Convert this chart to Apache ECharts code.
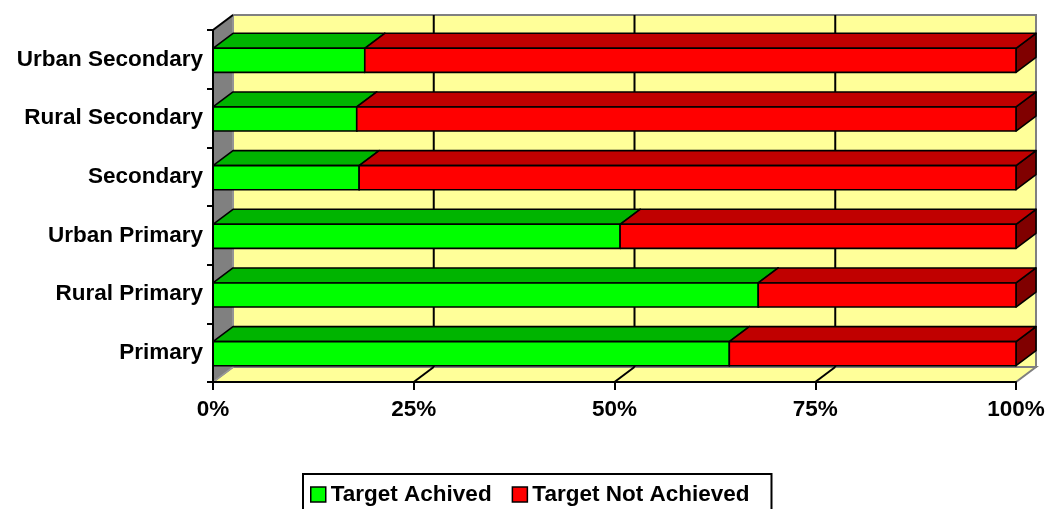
<!DOCTYPE html>
<html>
<head>
<meta charset="utf-8">
<script src="https://cdn.jsdelivr.net/npm/echarts@6/dist/echarts.min.js"></script>
<style>
html,body{margin:0;padding:0;background:#fff;}
#chart{width:1048px;height:509px;}
</style>
</head>
<body>
<div id="chart"></div>
<script>
// ---- data ----
const categories = ['Primary', 'Rural Primary', 'Urban Primary', 'Secondary', 'Rural Secondary', 'Urban Secondary'];
const achieved = [64.3, 67.9, 50.7, 18.2, 17.9, 18.9];
const notAchieved = [35.7, 32.1, 49.3, 81.8, 82.1, 81.1];
const seriesNames = ['Target Achived', 'Target Not Achieved'];
const xMin = 0, xMax = 100, xInterval = 25;

// ---- style ----
const FONT = '"Liberation Sans", Arial, sans-serif';
const FS = 22.5;
const DX = 20, DY = 15;          // 3D depth offset in px
const BAR_RATIO = 0.41;
const WALL = '#FFFF99', WALL_EDGE = '#808080', SIDE_WALL = '#808080';

const greenData = categories.map((c, i) => [i, 0, achieved[i]]);
const redData = categories.map((c, i) => [i, achieved[i], achieved[i] + notAchieved[i]]);

function barRenderer(frontColor, topColor, sideColor) {
  return function (params, api) {
    const cat = api.value(0), s = api.value(1), e = api.value(2);
    const p0 = api.coord([s, cat]);
    const p1 = api.coord([e, cat]);
    const band = api.size([0, 1])[1];
    const h = band * BAR_RATIO;
    const yT = p0[1] - h / 2 + 1, yB = p0[1] + h / 2 + 1;
    const x0 = p0[0], x1 = p1[0];
    const st = { stroke: '#000', lineWidth: 1.6, lineJoin: 'round' };
    return {
      type: 'group',
      children: [
        { type: 'polygon', shape: { points: [[x1, yT], [x1 + DX, yT - DY], [x1 + DX, yB - DY], [x1, yB]] },
          style: Object.assign({ fill: sideColor }, st) },
        { type: 'polygon', shape: { points: [[x0, yT], [x0 + DX, yT - DY], [x1 + DX, yT - DY], [x1, yT]] },
          style: Object.assign({ fill: topColor }, st) },
        { type: 'polygon', shape: { points: [[x0, yT], [x1, yT], [x1, yB], [x0, yB]] },
          style: Object.assign({ fill: frontColor }, st) }
      ]
    };
  };
}

function wallRenderer(params, api) {
  const cs = params.coordSys;
  const L = cs.x, R = cs.x + cs.width, T = cs.y, B = cs.y + cs.height;
  const children = [];
  // back wall
  children.push({ type: 'polygon', shape: { points: [[L + DX, T - DY], [R + DX, T - DY], [R + DX, B - DY], [L + DX, B - DY]] },
    style: { fill: WALL, stroke: WALL_EDGE, lineWidth: 2 } });
  // floor
  children.push({ type: 'polygon', shape: { points: [[L, B], [R, B], [R + DX, B - DY], [L + DX, B - DY]] },
    style: { fill: WALL, stroke: WALL_EDGE, lineWidth: 2 } });
  // left side wall
  children.push({ type: 'polygon', shape: { points: [[L, T], [L + DX, T - DY], [L + DX, B - DY], [L, B]] },
    style: { fill: SIDE_WALL, stroke: '#9a9a9a', lineWidth: 1.5 } });
  children.push({ type: 'line', shape: { x1: L, y1: T, x2: L + DX, y2: T - DY }, style: { stroke: '#000', lineWidth: 2 } });
  // gridlines
  for (let v = xMin + xInterval; v < xMax; v += xInterval) {
    const x = api.coord([v, 0])[0];
    children.push({ type: 'line', shape: { x1: x + DX, y1: T - DY, x2: x + DX, y2: B - DY }, style: { stroke: '#000', lineWidth: 2 } });
    children.push({ type: 'line', shape: { x1: x, y1: B, x2: x + DX, y2: B - DY }, style: { stroke: '#000', lineWidth: 2 } });
  }
  return { type: 'group', children: children };
}

const chart = echarts.init(document.getElementById('chart'), null, { renderer: 'canvas' });
chart.setOption({
  animation: false,
  backgroundColor: '#fff',
  grid: { left: 213, right: 32, top: 30, bottom: 127, containLabel: false, outerBoundsMode: 'none' },
  xAxis: {
    type: 'value', min: xMin, max: xMax, interval: xInterval, z: 10,
    axisLine: { show: true, lineStyle: { color: '#000', width: 2 } },
    axisTick: { show: true, length: 8, lineStyle: { color: '#000', width: 2 } },
    splitLine: { show: false },
    axisLabel: { formatter: '{value}%', color: '#000', fontFamily: FONT, fontWeight: 'bold', fontSize: FS, margin: 16 }
  },
  yAxis: {
    type: 'category', data: categories, z: 10,
    axisLine: { show: true, lineStyle: { color: '#000', width: 2 } },
    axisTick: { show: true, length: 6, lineStyle: { color: '#000', width: 2 } },
    splitLine: { show: false },
    axisLabel: { color: '#000', fontFamily: FONT, fontWeight: 'bold', fontSize: FS, margin: 10, padding: [4, 0, 0, 0] }
  },
  legend: {
    left: 303, top: 474, orient: 'horizontal',
    padding: [9, 22, 20, 7],
    borderColor: '#000', borderWidth: 2, backgroundColor: '#fff',
    itemWidth: 15, itemHeight: 15, itemGap: 20, icon: 'rect',
    selectedMode: false,
    textStyle: { color: '#000', fontFamily: FONT, fontWeight: 'bold', fontSize: FS },
    data: [
      { name: seriesNames[0], itemStyle: { color: '#00FF00', borderColor: '#000', borderWidth: 1.5 } },
      { name: seriesNames[1], itemStyle: { color: '#FF0000', borderColor: '#000', borderWidth: 1.5 } }
    ]
  },
  series: [
    { type: 'custom', name: 'walls', z: 1, silent: true, renderItem: wallRenderer,
      data: [[0, xMin, xMax]], encode: { x: [1, 2], y: 0 } },
    { type: 'custom', name: seriesNames[0], z: 2, renderItem: barRenderer('#00FF00', '#00B400', '#008000'),
      itemStyle: { color: '#00FF00' }, data: greenData, encode: { x: [1, 2], y: 0 } },
    { type: 'custom', name: seriesNames[1], z: 2, renderItem: barRenderer('#FF0000', '#C00000', '#800000'),
      itemStyle: { color: '#FF0000' }, data: redData, encode: { x: [1, 2], y: 0 } }
  ]
});
</script>
</body>
</html>
